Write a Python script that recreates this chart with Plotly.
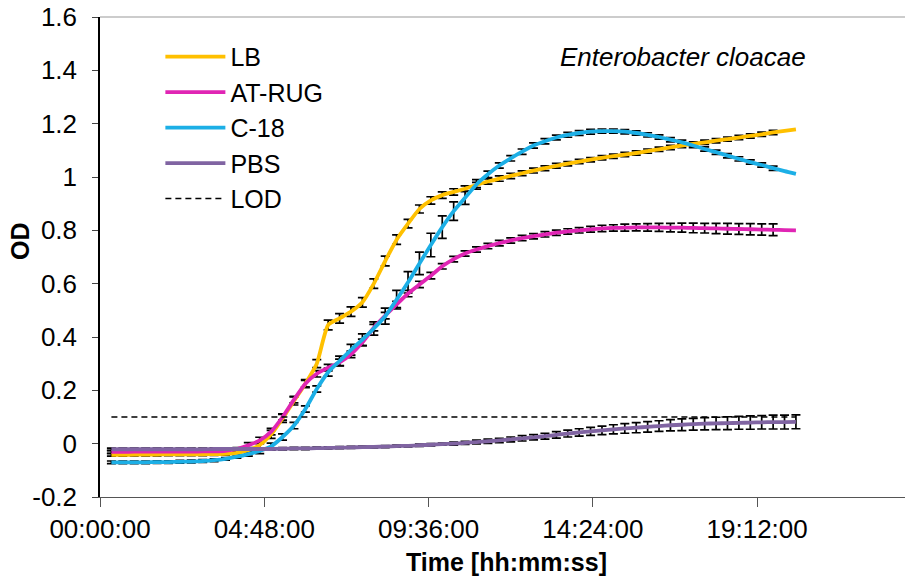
import plotly.graph_objects as go

# ---- data ----
time_min = list(range(20, 1221, 20))          # sampling every 20 min
time_h = [m / 60 for m in time_min]

lb = [-0.042, -0.042, -0.041, -0.041, -0.041, -0.040, -0.040, -0.040, -0.040, -0.039,
      -0.038, -0.035, -0.025, -0.005, 0.035, 0.095, 0.160, 0.225, 0.300, 0.445,
      0.470, 0.495, 0.530, 0.600, 0.685, 0.765, 0.825, 0.880, 0.912, 0.932,
      0.944, 0.956, 0.970, 0.983, 0.994, 1.004, 1.014, 1.024, 1.033, 1.042,
      1.050, 1.058, 1.065, 1.072, 1.078, 1.084, 1.090, 1.097, 1.104, 1.111,
      1.118, 1.124, 1.130, 1.136, 1.142, 1.148, 1.154, 1.160, 1.167, 1.173, 1.179]
lb_err = [0.005] * 12 + [0.01, 0.012, 0.015, 0.015, 0.015, 0.015, 0.015, 0.018,
          0.018, 0.018, 0.018, 0.018, 0.018, 0.018, 0.016, 0.015, 0.014, 0.012,
          0.012, 0.011, 0.01, 0.01, 0.01, 0.01, 0.009, 0.009, 0.009, 0.009,
          0.008, 0.008, 0.008, 0.008, 0.008, 0.008, 0.008, 0.008, 0.008, 0.008,
          0.008, 0.008, 0.008, 0.008, 0.008, 0.008, 0.008, 0.008, 0.008]

atrug = [-0.031, -0.031, -0.030, -0.030, -0.030, -0.030, -0.030, -0.030, -0.029, -0.029,
         -0.027, -0.020, -0.006, 0.012, 0.045, 0.100, 0.165, 0.225, 0.262, 0.285,
         0.305, 0.335, 0.380, 0.435, 0.480, 0.522, 0.563, 0.597, 0.630, 0.665,
         0.692, 0.713, 0.728, 0.741, 0.752, 0.762, 0.771, 0.778, 0.785, 0.791,
         0.796, 0.800, 0.804, 0.807, 0.809, 0.810, 0.811, 0.811, 0.811, 0.810,
         0.810, 0.809, 0.808, 0.807, 0.806, 0.805, 0.804, 0.803, 0.802, 0.801, 0.800]
atrug_err = [0.005] * 12 + [0.01, 0.012, 0.012, 0.012, 0.012, 0.012, 0.012, 0.012,
             0.012, 0.012, 0.012, 0.012, 0.012, 0.012, 0.012, 0.012, 0.012, 0.01,
             0.01, 0.01, 0.01, 0.01, 0.01, 0.01, 0.01, 0.01, 0.01, 0.01,
             0.01, 0.01, 0.011, 0.012, 0.012, 0.013, 0.013, 0.014, 0.015, 0.016,
             0.017, 0.018, 0.018, 0.019, 0.02, 0.02, 0.021, 0.021, 0.022]

c18 = [-0.070, -0.070, -0.070, -0.070, -0.069, -0.069, -0.068, -0.067, -0.065, -0.062,
       -0.057, -0.049, -0.039, -0.027, -0.010, 0.025, 0.068, 0.130, 0.205, 0.268,
       0.310, 0.352, 0.390, 0.432, 0.478, 0.540, 0.605, 0.676, 0.745, 0.812,
       0.872, 0.922, 0.972, 1.010, 1.043, 1.070, 1.095, 1.118, 1.134, 1.148,
       1.158, 1.165, 1.170, 1.172, 1.172, 1.170, 1.165, 1.158, 1.150, 1.140,
       1.130, 1.118, 1.105, 1.093, 1.080, 1.068, 1.056, 1.045, 1.033, 1.022, 1.012]
c18_err = [0.005] * 12 + [0.008, 0.01, 0.012, 0.012, 0.012, 0.012, 0.012, 0.015,
           0.018, 0.02, 0.022, 0.025, 0.03, 0.035, 0.04, 0.042, 0.044, 0.042,
           0.035, 0.025, 0.018, 0.012, 0.01, 0.01, 0.01, 0.01, 0.01, 0.009,
           0.009, 0.009, 0.009, 0.008, 0.008, 0.008, 0.008, 0.008, 0.008, 0.008,
           0.008, 0.008, 0.008, 0.008, 0.008, 0.008, 0.008, 0.008, 0.008]

pbs = [-0.021, -0.021, -0.021, -0.021, -0.021, -0.021, -0.021, -0.021, -0.021, -0.020,
       -0.020, -0.020, -0.020, -0.020, -0.020, -0.019, -0.018, -0.018, -0.017, -0.016,
       -0.015, -0.014, -0.013, -0.012, -0.011, -0.009, -0.008, -0.006, -0.004, -0.002,
       0.000, 0.003, 0.006, 0.009, 0.012, 0.016, 0.020, 0.024, 0.028, 0.033,
       0.038, 0.042, 0.046, 0.050, 0.054, 0.057, 0.060, 0.063, 0.066, 0.069,
       0.071, 0.073, 0.075, 0.076, 0.077, 0.078, 0.079, 0.080, 0.081, 0.081, 0.082]
pbs_err = [0.004] * 30 + [0.006, 0.006, 0.007, 0.008, 0.008, 0.009, 0.01, 0.01,
           0.011, 0.012, 0.013, 0.014, 0.015, 0.016, 0.017, 0.018, 0.019, 0.02,
           0.02, 0.021, 0.022, 0.022, 0.023, 0.023, 0.024, 0.024, 0.025, 0.025,
           0.026, 0.026, 0.026]

lod_value = 0.1
lod = [lod_value] * len(time_h)

x_tick_vals = [0, 4.8, 9.6, 14.4, 19.2]
x_tick_text = ["00:00:00", "04:48:00", "09:36:00", "14:24:00", "19:12:00"]
y_tick_vals = [-0.2, 0, 0.2, 0.4, 0.6, 0.8, 1.0, 1.2, 1.4, 1.6]
y_tick_text = ["-0.2", "0", "0.2", "0.4", "0.6", "0.8", "1", "1.2", "1.4", "1.6"]

series = [
    ("LB", lb, lb_err, "#FFC000"),
    ("AT-RUG", atrug, atrug_err, "#E025B4"),
    ("C-18", c18, c18_err, "#1CAFE6"),
    ("PBS", pbs, pbs_err, "#8064A2"),
]

FONT = "Liberation Sans, Arial, sans-serif"
fig = go.Figure()

# error bars (drawn underneath the lines)
for name, vals, errs, col in series:
    fig.add_trace(go.Scatter(
        x=time_h, y=vals, mode="markers",
        marker=dict(size=1, color="rgba(0,0,0,0)"),
        error_y=dict(type="data", array=errs, visible=True, color="black",
                     thickness=1.7, width=4.5),
        showlegend=False, hoverinfo="skip"))

for name, vals, errs, col in series:
    fig.add_trace(go.Scatter(
        x=time_h, y=vals, mode="lines", name=name,
        line=dict(color=col, width=3.8, shape="spline", smoothing=0.6)))

fig.add_trace(go.Scatter(
    x=time_h, y=lod, mode="lines", name="LOD",
    line=dict(color="black", width=1.5, dash="6px,4px")))

fig.update_layout(
    width=905, height=580,
    margin=dict(l=100, r=0, t=17, b=83),
    paper_bgcolor="white", plot_bgcolor="white",
    font=dict(family=FONT, size=25, color="black"),
    showlegend=True,
    legend=dict(x=0.075, y=0.965, xanchor="left", yanchor="top",
                bgcolor="rgba(0,0,0,0)", font=dict(size=25),
                tracegroupgap=0, itemwidth=60),
    xaxis=dict(range=[0, 23.52], tickvals=x_tick_vals, ticktext=x_tick_text,
               showgrid=False, zeroline=False, showline=True,
               linecolor="#555555", linewidth=1.2,
               ticks="outside", ticklen=9, tickcolor="#555555",
               tickfont=dict(size=26)),
    yaxis=dict(range=[-0.2, 1.6], tickvals=y_tick_vals, ticktext=y_tick_text,
               showgrid=False, zeroline=False, showline=True,
               linecolor="black", linewidth=1.5,
               ticks="outside", ticklen=6, tickcolor="#444444",
               tickfont=dict(size=26), ticklabelstandoff=10),
    shapes=[dict(type="line", xref="paper", yref="paper", x0=0, x1=1, y0=1, y1=1,
                 line=dict(color="#999999", width=1.2))],
    annotations=[
        dict(text="<i>Enterobacter cloacae</i>", xref="paper", yref="paper",
             x=(808 - 100) / 805, y=1 - (57 - 17) / 480,
             xanchor="right", yanchor="middle", showarrow=False,
             font=dict(size=26)),
        dict(text="<b>Time [hh:mm:ss]</b>", xref="paper", yref="paper",
             x=(506 - 100) / 805, y=-(562 - 497) / 480,
             xanchor="center", yanchor="middle", showarrow=False,
             font=dict(size=25)),
        dict(text="<b>OD</b>", xref="paper", yref="paper",
             x=-(100 - 20) / 805, y=1 - (241 - 17) / 480,
             xanchor="center", yanchor="middle", showarrow=False,
             textangle=-90, font=dict(size=25)),
    ],
)

fig.write_html("out.html", config={"displayModeBar": False},
               post_script="document.body.style.margin='0';")
